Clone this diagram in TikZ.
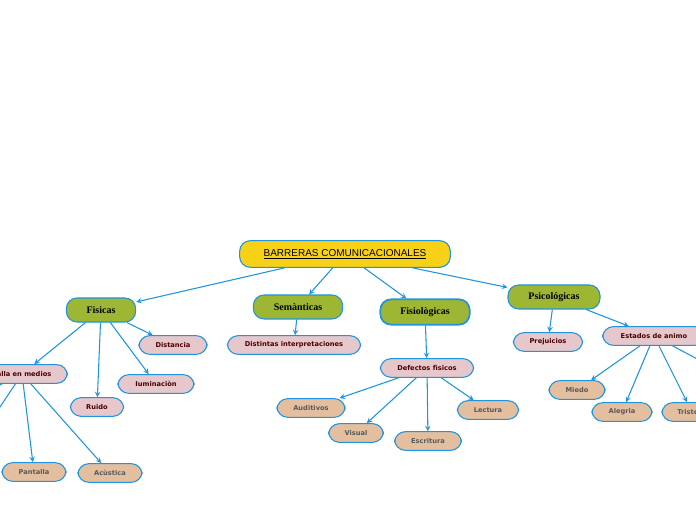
\documentclass[tikz,border=0pt]{standalone}
\usepackage{fontspec}
\setmainfont{Liberation Serif}
\newfontfamily\smallfont{DejaVu Sans}
\newfontfamily\titlefont{Liberation Sans}
\definecolor{edge}{HTML}{1E95DC}
\definecolor{gold}{HTML}{F7D117}
\definecolor{olive}{HTML}{9DB633}
\definecolor{rose}{HTML}{E6C7CB}
\definecolor{tan}{HTML}{E3BF9F}
\tikzset{
  box/.style={draw=edge, rounded corners=8pt, line width=0.8pt, inner sep=0pt},
  main/.style={box, fill=olive, minimum height=18pt, font=\bfseries\fontsize{7.5}{8}\selectfont},
  sub/.style={box, fill=rose, minimum height=14pt, text=red!30!black, font=\smallfont\bfseries\fontsize{5}{6}\selectfont},
  leaf/.style={box, fill=tan, minimum height=14pt, text=black!65, font=\smallfont\bfseries\fontsize{5}{6}\selectfont},
  arr/.style={-stealth, draw=edge, line width=0.8pt}
}
\begin{document}
\begin{tikzpicture}[x=0.75pt, y=-0.75pt]
    \useasboundingbox (0,0) rectangle (696,520);
    % Title
    \node[box, fill=gold, minimum width=158pt, minimum height=20pt, font=\titlefont\fontsize{7.5}{8}\selectfont] (title) at (345,254) {\underline{BARRERAS COMUNICACIONALES}};

    % First level
    \node[main, minimum width=52pt] (fis) at (101,310) {Fisicas};
    \node[main, minimum width=67pt] (sem) at (298,307) {Semànticas};
    \node[main, minimum width=67pt, minimum height=19pt, line width=1.3pt] (fisio) at (425,312) {Fisiològicas};
    \node[main, minimum width=69pt] (psi) at (554,297) {Psicológicas};

    % Fisicas
    \node[sub, minimum width=51pt] (dist) at (173,345) {Distancia};
    \node[sub, minimum width=57pt] (ilu) at (156,384) {Iuminaciòn};
    \node[sub, minimum width=40pt] (ruido) at (97,407) {Ruido};
    \node[sub, minimum width=68pt] (falla) at (22,374) {Falla en medios};
    \node[leaf, minimum width=48pt] (pant) at (34,472) {Pantalla};
    \node[leaf, minimum width=48pt] (acus) at (110,473) {Acùstica};
    \coordinate (fa) at (-12,425);
    \coordinate (fb) at (-30,400);

    % Semanticas
    \node[sub, minimum width=100pt] (inter) at (294,345) {Distintas interpretaciones};

    % Fisiologicas
    \node[sub, minimum width=70pt] (def) at (427,368) {Defectos fìsicos};
    \node[leaf, minimum width=51pt] (aud) at (311,408) {Auditivos};
    \node[leaf, minimum width=41pt] (vis) at (356,433) {Visual};
    \node[leaf, minimum width=50pt] (esc) at (428,441) {Escritura};
    \node[leaf, minimum width=46pt] (lec) at (488,410) {Lectura};

    % Psicologicas
    \node[sub, minimum width=52pt] (prej) at (548,342) {Prejuicios};
    \node[sub, minimum width=77pt] (est) at (654,336) {Estados de animo};
    \node[leaf, minimum width=42pt] (miedo) at (577,390) {Miedo};
    \node[leaf, minimum width=45pt] (ale) at (622,412) {Alegria};
    \node[leaf, minimum width=45pt] (tri) at (692,412) {Tristeza};
    \node[leaf, minimum width=45pt] (otro) at (733,378) {};

    % Connectors
    \draw[arr] (title) -- (fis);
    \draw[arr] (title) -- (sem);
    \draw[arr] (title) -- (fisio);
    \draw[arr] (title) -- (psi);
    \draw[arr] (fis) -- (dist);
    \draw[arr] (fis) -- (ilu);
    \draw[arr] (fis) -- (ruido);
    \draw[arr] (fis) -- (falla);
    \draw[arr] (falla) -- (pant);
    \draw[arr] (falla) -- (acus);
    \draw[arr] (falla) -- (fa);
    \draw[arr] (falla) -- (fb);
    \draw[arr] (sem) -- (inter);
    \draw[arr] (fisio) -- (def);
    \draw[arr] (def) -- (aud);
    \draw[arr] (def) -- (vis);
    \draw[arr] (def) -- (esc);
    \draw[arr] (def) -- (lec);
    \draw[arr] (psi) -- (prej);
    \draw[arr] (psi) -- (est);
    \draw[arr] (est) -- (miedo);
    \draw[arr] (est) -- (ale);
    \draw[arr] (est) -- (tri);
    \draw[arr] (est) -- (otro);
\end{tikzpicture}
\end{document}
